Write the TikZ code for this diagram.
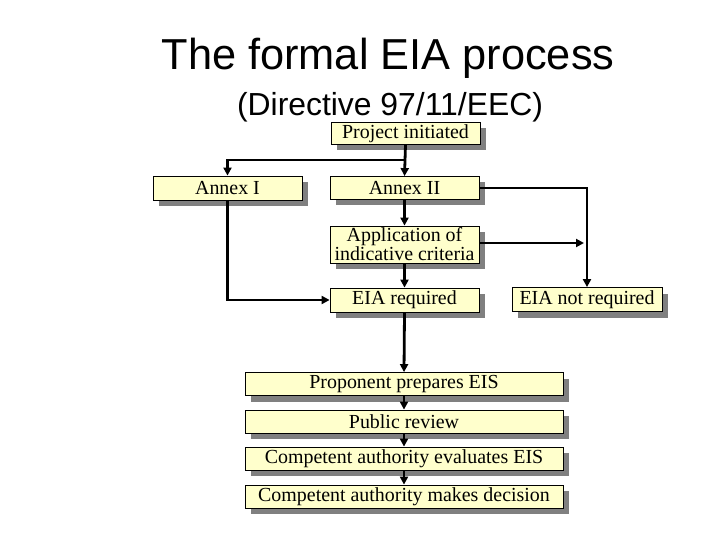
\documentclass[tikz,border=0pt]{standalone}
\usepackage{fontspec}
\setmainfont{Liberation Serif}
\newfontfamily\titlefont{Liberation Sans}
\usetikzlibrary{arrows.meta,shadows}
\definecolor{boxfill}{HTML}{FFFFCC}
\definecolor{shadowgray}{HTML}{808080}
\tikzset{
  flowbox/.style={draw=black, line width=0.8bp, fill=boxfill, rectangle, inner sep=0pt,
    minimum width=149bp, minimum height=23bp, align=center,
    font=\fontsize{20}{16.5}\selectfont,
    drop shadow={shadow xshift=6bp, shadow yshift=-6bp, fill=shadowgray, opacity=1}},
  widebox/.style={flowbox, minimum width=318bp},
  conn/.style={line width=2.8bp, -{Triangle[length=8bp,width=8bp]}}
}
\begin{document}
\begin{tikzpicture}[x=1bp,y=-1bp]
\useasboundingbox (0,0) rectangle (720,540);
\fill[white] (0,0) rectangle (720,540);
% title
\node[anchor=base, inner sep=0pt, font=\titlefont\fontsize{43.5}{43.5}\selectfont] (title1) at (388,70) {The formal EIA process};
\node[anchor=base, inner sep=0pt, font=\titlefont\fontsize{32}{32}\selectfont] (title2) at (390,116) {(Directive 97/11/EEC)};
% boxes
\node[flowbox, minimum height=22bp] (proj) at (405.5,133.5) {Project initiated};
\node[flowbox, minimum height=24bp] (annexI) at (227.5,188) {Annex I};
\node[flowbox] (annexII) at (404.5,188) {Annex II};
\node[flowbox, minimum height=37bp] (appl) at (404.5,244.5) {Application of\\indicative criteria};
\node[flowbox, minimum height=24bp] (eiareq) at (404.5,300) {EIA required};
\node[flowbox, minimum width=150bp, minimum height=24bp] (notreq) at (587,299.5) {EIA not required};
\node[widebox] (prop) at (404,384) {Proponent prepares EIS};
\node[widebox] (pub) at (404,421.5) {Public review};
\node[widebox] (eval) at (404,458.5) {Competent authority evaluates EIS};
\node[widebox] (dec) at (404,496.5) {Competent authority makes decision};
% connectors
\coordinate (split) at (proj.south |- 0,160);
\coordinate (applend) at (584,243);
\draw[conn] (proj.south) -- (annexII.north);
\draw[conn] (split) -| (annexI.north);
\draw[conn] (annexI.south) |- (eiareq.west);
\draw[conn] (annexII.east) -| (notreq.north);
\draw[conn] (appl.east |- applend) -- (applend);
\draw[conn] (annexII.south) -- (appl.north);
\draw[conn] (appl.south) -- (eiareq.north);
\draw[conn] (eiareq.south) -- (prop.north);
\draw[conn] (prop.south) -- (pub.north);
\draw[conn] (pub.south) -- (eval.north);
\draw[conn] (eval.south) -- (dec.north);
\end{tikzpicture}
\end{document}
